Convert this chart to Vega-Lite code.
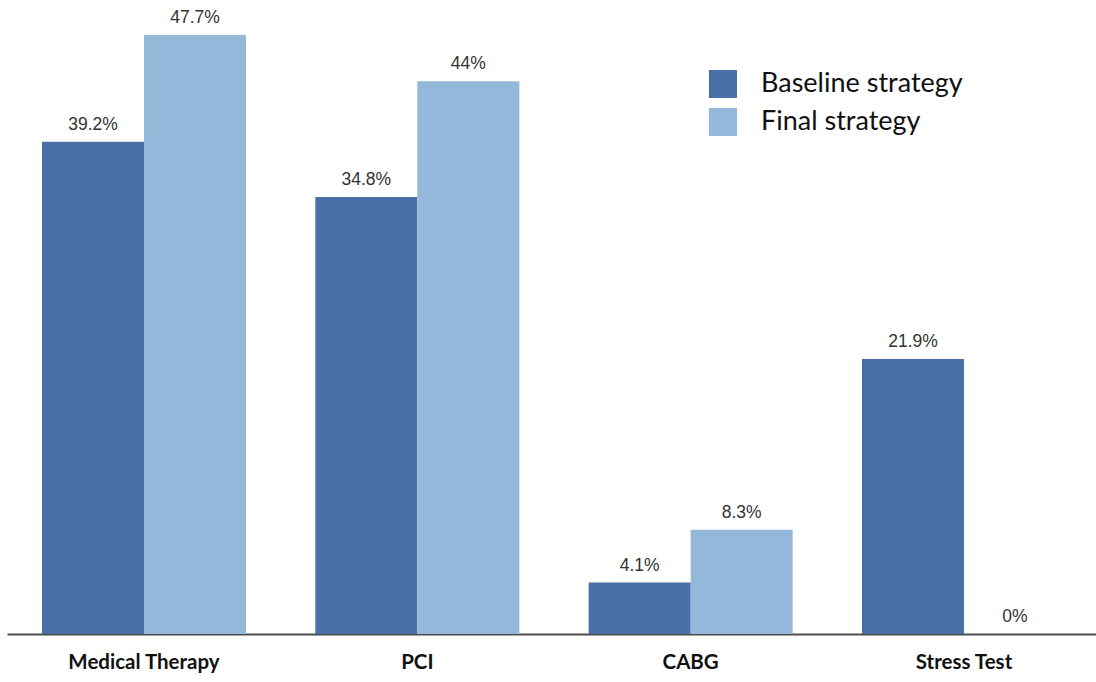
{
  "$schema": "https://vega.github.io/schema/vega-lite/v6.json",
  "width": 1094,
  "height": 628,
  "autosize": {"type": "none"},
  "padding": {"left": 7, "top": 6, "right": 0, "bottom": 48},
  "background": "white",
  "config": {"view": {"stroke": null}},
  "data": {
    "values": [
      {"treatment": "Medical Therapy", "strategy": "Baseline strategy", "pct": 39.2},
      {"treatment": "Medical Therapy", "strategy": "Final strategy", "pct": 47.7},
      {"treatment": "PCI", "strategy": "Baseline strategy", "pct": 34.8},
      {"treatment": "PCI", "strategy": "Final strategy", "pct": 44},
      {"treatment": "CABG", "strategy": "Baseline strategy", "pct": 4.1},
      {"treatment": "CABG", "strategy": "Final strategy", "pct": 8.3},
      {"treatment": "Stress Test", "strategy": "Baseline strategy", "pct": 21.9},
      {"treatment": "Stress Test", "strategy": "Final strategy", "pct": 0}
    ]
  },
  "transform": [{"calculate": "datum.pct + '%'", "as": "label"}],
  "encoding": {
    "x": {
      "field": "treatment",
      "type": "nominal",
      "sort": ["Medical Therapy", "PCI", "CABG", "Stress Test"],
      "scale": {"paddingInner": 0.2536, "paddingOuter": 0.128},
      "axis": {
        "title": null,
        "labelAngle": 0,
        "ticks": false,
        "domainColor": "#4d4d4d",
        "domainWidth": 2,
        "labelFont": "Lato",
        "labelFontWeight": "bold",
        "labelFontSize": 20.5,
        "labelColor": "#111111",
        "labelPadding": 18,
        "labelLimit": 300
      }
    },
    "xOffset": {
      "field": "strategy",
      "type": "nominal",
      "sort": ["Baseline strategy", "Final strategy"],
      "scale": {"paddingInner": 0, "paddingOuter": 0}
    },
    "y": {
      "field": "pct",
      "type": "quantitative",
      "scale": {"domain": [0, 50]},
      "axis": null
    }
  },
  "layer": [
    {
      "mark": {"type": "bar"},
      "encoding": {
        "color": {
          "field": "strategy",
          "type": "nominal",
          "sort": ["Baseline strategy", "Final strategy"],
          "scale": {
            "domain": ["Baseline strategy", "Final strategy"],
            "range": ["#4a6fa7", "#94b8da"]
          },
          "legend": {
            "orient": "none",
            "legendX": 702,
            "legendY": 64,
            "title": null,
            "symbolType": "square",
            "symbolSize": 784,
            "symbolStrokeWidth": 0,
            "symbolOpacity": 1,
            "labelFont": "Lato",
            "labelFontSize": 27,
            "labelColor": "#111111",
            "labelOffset": 24,
            "labelLimit": 400,
            "rowPadding": 10,
            "padding": 0
          }
        }
      }
    },
    {
      "mark": {
        "type": "text",
        "dy": -8,
        "baseline": "bottom",
        "font": "Liberation Sans",
        "fontSize": 17.5,
        "color": "#333333"
      },
      "encoding": {"text": {"field": "label", "type": "nominal"}}
    }
  ]
}
